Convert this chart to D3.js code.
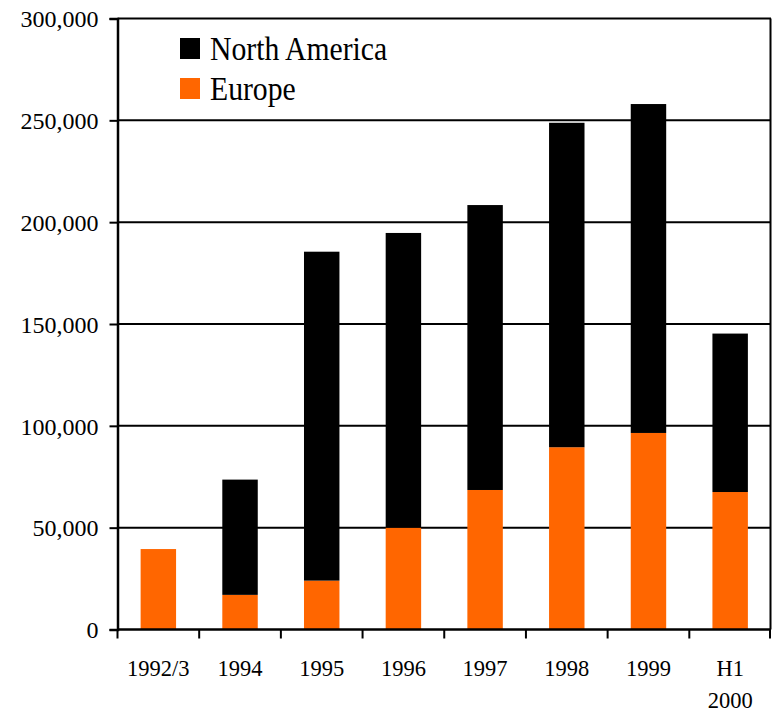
<!DOCTYPE html>
<html>
<head>
<meta charset="utf-8">
<script src="https://cdn.jsdelivr.net/npm/d3@7"></script>
<style>
  html, body { margin: 0; padding: 0; background: #fff; }
  svg { display: block; }
  text { font-family: "Times New Roman", "Liberation Serif", Tinos, serif; fill: #000; }
</style>
</head>
<body>
<svg id="chart" width="772" height="711"></svg>
<script>
// Categories (periods) and the two stacked series
const categories = ["1992/3", "1994", "1995", "1996", "1997", "1998", "1999", "H1 2000"];
const europe       = [39500, 17000, 24000, 50000, 68500, 89500, 96500, 67500];
const northAmerica = [0, 56600, 161500, 144700, 139900, 159300, 161500, 77800];
const seriesNames  = ["North America", "Europe"];
const yTicks       = [0, 50000, 100000, 150000, 200000, 250000, 300000];

const colors = { "Europe": "#ff6600", "North America": "#000000" };
const serif = "'Times New Roman', 'Liberation Serif', Tinos, serif";

const svg = d3.select("#chart");
const plotLeft = 117.5, plotRight = 771, plotTop = 18.5, plotBottom = 629.5;

const x = d3.scaleBand()
  .domain(categories)
  .range([plotLeft, plotRight])
  .paddingInner(0.566)
  .paddingOuter(0.283);

const y = d3.scaleLinear()
  .domain([0, 300000])
  .range([plotBottom, plotTop]);

// Horizontal gridlines (behind bars)
svg.append("g")
  .selectAll("line")
  .data(yTicks.filter(d => d > 0))
  .join("line")
  .attr("x1", plotLeft).attr("x2", plotRight)
  .attr("y1", d => y(d)).attr("y2", d => y(d))
  .attr("stroke", "#000").attr("stroke-width", 2);

// Right frame line
svg.append("line")
  .attr("x1", plotRight - 0.5).attr("x2", plotRight - 0.5)
  .attr("y1", y(300000)).attr("y2", y(0))
  .attr("stroke", "#000").attr("stroke-width", 2);

// Stacked bars: Europe at the bottom, North America on top
const rows = categories.map((c, i) => ({ cat: c, "Europe": europe[i], "North America": northAmerica[i] }));
const stack = d3.stack().keys(["Europe", "North America"]);
const layers = stack(rows);

svg.append("g")
  .selectAll("g")
  .data(layers)
  .join("g")
  .attr("fill", d => colors[d.key])
  .selectAll("rect")
  .data(d => d.filter(s => s[1] > s[0]))
  .join("rect")
  .attr("x", d => x(d.data.cat))
  .attr("width", x.bandwidth())
  .attr("y", d => y(d[1]))
  .attr("height", d => y(d[0]) - y(d[1]));

// Y axis
const yAxis = d3.axisLeft(y)
  .tickValues(yTicks)
  .tickSize(8)
  .tickPadding(11)
  .tickFormat(d3.format(",.0f"));
const gy = svg.append("g")
  .attr("transform", `translate(${plotLeft},0)`)
  .call(yAxis)
  .attr("font-family", serif);
gy.select(".domain").attr("stroke", "#000").attr("stroke-width", 2.5);
gy.selectAll(".tick line").attr("stroke", "#000").attr("stroke-width", 2);
gy.selectAll(".tick text")
  .attr("font-size", 24)
  .attr("dy", "0.34em");

// X axis: line at zero with ticks at category boundaries
svg.append("line")
  .attr("x1", plotLeft).attr("x2", plotRight)
  .attr("y1", y(0)).attr("y2", y(0))
  .attr("stroke", "#000").attr("stroke-width", 2.5);
const step = x.step();
const bounds = d3.range(categories.length + 1).map(i => plotLeft + i * step);
svg.append("g")
  .selectAll("line")
  .data(bounds)
  .join("line")
  .attr("x1", d => Math.min(d, plotRight - 1)).attr("x2", d => Math.min(d, plotRight - 1))
  .attr("y1", y(0)).attr("y2", y(0) + 9)
  .attr("stroke", "#000").attr("stroke-width", 2);

// Category labels (split on space into lines)
const xl = svg.append("g")
  .selectAll("text")
  .data(categories)
  .join("text")
  .attr("text-anchor", "middle")
  .attr("font-size", 22.5)
  .attr("transform", d => `translate(${x(d) + x.bandwidth() / 2},676)`);
xl.each(function(d) {
  const parts = d.split(" ");
  d3.select(this).selectAll("tspan")
    .data(parts)
    .join("tspan")
    .attr("x", 0)
    .attr("y", (p, i) => i * 31.5)
    .text(p => p);
});

// Legend
const legend = svg.append("g")
  .selectAll("g")
  .data(seriesNames)
  .join("g")
  .attr("transform", (d, i) => `translate(180,${38 + i * 40})`);
legend.append("rect")
  .attr("width", 20).attr("height", 21)
  .attr("fill", d => colors[d]);
legend.append("text")
  .attr("transform", "translate(30,21.5) scale(0.9,1)")
  .attr("font-size", 33)
  .text(d => d);
</script>
</body>
</html>
